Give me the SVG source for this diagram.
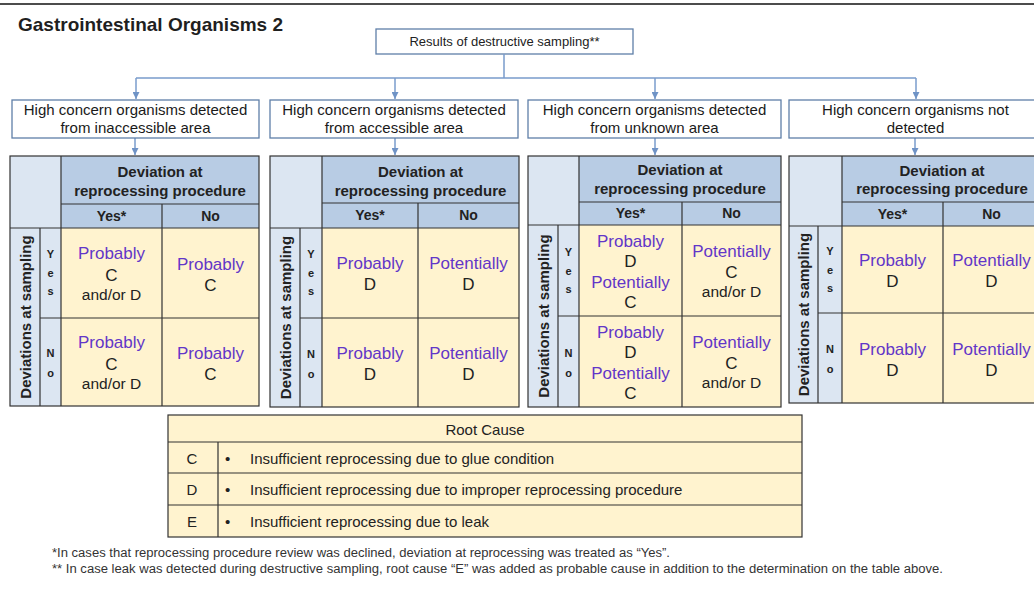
<svg xmlns="http://www.w3.org/2000/svg" width="1034" height="592" viewBox="0 0 1034 592">
<defs>
<marker id="arr" markerUnits="userSpaceOnUse" markerWidth="8" markerHeight="7" refX="7" refY="3.5" orient="auto">
<path d="M0,0 L7,3.5 L0,7 z" fill="#6f93c6"/>
</marker>
<style>
text{font-family:"Liberation Sans",Arial,sans-serif;fill:#222}
.title{font-size:19px;font-weight:bold;fill:#1f1f1f}
.box{fill:#fff;stroke:#5f7fa8;stroke-width:1.3}
.bt{font-size:15px;text-anchor:middle;fill:#1a1a1a}
.conn{fill:none;stroke:#7a9ccc;stroke-width:1.5}
.hd{fill:#b8cce4}
.lb{fill:#dce6f2}
.ye{fill:#fff3cf}
.ln{stroke:#333;stroke-width:1.2;fill:none}
.th{font-size:15px;font-weight:bold;text-anchor:middle}
.ths{font-size:14px;font-weight:bold;text-anchor:middle}
.vl{font-size:15px;font-weight:bold;text-anchor:middle}
.yn{font-size:11px;font-weight:bold;text-anchor:middle}
.p{font-size:17px;fill:#6236c8;text-anchor:middle}
.l{font-size:17px;text-anchor:middle;fill:#222}
.s{font-size:15.5px;text-anchor:middle;fill:#222}
.rc{font-size:15px;fill:#222}
.rcc{font-size:15px;fill:#222;text-anchor:middle}
.fn{font-size:12.5px;fill:#333}
</style>
</defs>
<rect x="0" y="0" width="1034" height="592" fill="#fff"/>
<line x1="0" y1="4" x2="1034" y2="4" stroke="#111" stroke-width="1.5"/>

<g id="title"><text class="title" x="18" y="31">Gastrointestinal Organisms 2</text></g>

<g id="results">
<rect class="box" x="376" y="29" width="257" height="25"/>
<text x="504.5" y="46" font-size="13" text-anchor="middle">Results of destructive sampling**</text>
</g>

<g id="connectors">
<path class="conn" d="M504,54 V78 M136,78 H916"/>
<path class="conn" d="M136,78 V99" marker-end="url(#arr)"/>
<path class="conn" d="M395,78 V99" marker-end="url(#arr)"/>
<path class="conn" d="M655,78 V99" marker-end="url(#arr)"/>
<path class="conn" d="M916,78 V99" marker-end="url(#arr)"/>
<path class="conn" d="M135,138 V155" marker-end="url(#arr)"/>
<path class="conn" d="M395,138 V155" marker-end="url(#arr)"/>
<path class="conn" d="M655,138 V155" marker-end="url(#arr)"/>
<path class="conn" d="M915,138 V155" marker-end="url(#arr)"/>
</g>

<g id="box-inaccessible">
<rect class="box" x="12" y="100" width="247" height="38"/>
<text class="bt" x="135.5" y="115">High concern organisms detected</text>
<text class="bt" x="135.5" y="133">from inaccessible area</text>
</g>
<g id="box-accessible">
<rect class="box" x="270" y="100" width="248" height="38"/>
<text class="bt" x="394" y="115">High concern organisms detected</text>
<text class="bt" x="394" y="133">from accessible area</text>
</g>
<g id="box-unknown">
<rect class="box" x="528" y="100" width="253" height="38"/>
<text class="bt" x="654.5" y="115">High concern organisms detected</text>
<text class="bt" x="654.5" y="133">from unknown area</text>
</g>
<g id="box-notdetected">
<rect class="box" x="789" y="100" width="252" height="38"/>
<text class="bt" x="915.5" y="115">High concern organisms not</text>
<text class="bt" x="915.5" y="133">detected</text>
</g>

<!-- Table 1 -->
<g id="table-inaccessible">
<rect class="lb" x="10" y="156" width="51" height="250"/>
<rect class="hd" x="61" y="156" width="198" height="72"/>
<rect class="ye" x="61" y="228" width="198" height="178"/>
<rect class="ln" x="10" y="156" width="249" height="250"/>
<path class="ln" d="M61,156 V406 M61,204 H259 M10,228 H259 M162,204 V406 M40,228 V406 M40,318 H259"/>
<text class="th" x="160" y="177">Deviation at</text>
<text class="th" x="160" y="196">reprocessing procedure</text>
<text class="ths" x="111.5" y="221">Yes*</text>
<text class="ths" x="210.5" y="221">No</text>
<text class="vl" transform="translate(30.5,317) rotate(-90)">Deviations at sampling</text>
<text class="yn" x="50.5" y="258">Y</text><text class="yn" x="50.5" y="277">e</text><text class="yn" x="50.5" y="295">s</text>
<text class="yn" x="50.5" y="357">N</text><text class="yn" x="50.5" y="377">o</text>
<text class="p" x="111.5" y="259">Probably</text><text class="l" x="111.5" y="281">C</text><text class="s" x="111.5" y="300">and/or D</text>
<text class="p" x="210.5" y="270">Probably</text><text class="l" x="210.5" y="291">C</text>
<text class="p" x="111.5" y="348">Probably</text><text class="l" x="111.5" y="370">C</text><text class="s" x="111.5" y="389">and/or D</text>
<text class="p" x="210.5" y="359">Probably</text><text class="l" x="210.5" y="380">C</text>
</g>

<!-- Table 2 -->
<g id="table-accessible">
<rect class="lb" x="270" y="156" width="52" height="251"/>
<rect class="hd" x="322" y="156" width="197" height="72"/>
<rect class="ye" x="322" y="228" width="197" height="179"/>
<rect class="ln" x="270" y="156" width="249" height="251"/>
<path class="ln" d="M322,156 V407 M322,203 H519 M270,228 H519 M418,203 V407 M300,228 V407 M300,318 H519"/>
<text class="th" x="420.5" y="177">Deviation at</text>
<text class="th" x="420.5" y="196">reprocessing procedure</text>
<text class="ths" x="370" y="220">Yes*</text>
<text class="ths" x="468.5" y="220">No</text>
<text class="vl" transform="translate(290.5,317.5) rotate(-90)">Deviations at sampling</text>
<text class="yn" x="311" y="258">Y</text><text class="yn" x="311" y="277">e</text><text class="yn" x="311" y="295">s</text>
<text class="yn" x="311" y="358">N</text><text class="yn" x="311" y="378">o</text>
<text class="p" x="370" y="269">Probably</text><text class="l" x="370" y="290">D</text>
<text class="p" x="468.5" y="269">Potentially</text><text class="l" x="468.5" y="290">D</text>
<text class="p" x="370" y="359">Probably</text><text class="l" x="370" y="380">D</text>
<text class="p" x="468.5" y="359">Potentially</text><text class="l" x="468.5" y="380">D</text>
</g>

<!-- Table 3 -->
<g id="table-unknown">
<rect class="lb" x="528" y="156" width="51" height="251"/>
<rect class="hd" x="579" y="156" width="202" height="69"/>
<rect class="ye" x="579" y="225" width="202" height="182"/>
<rect class="ln" x="528" y="156" width="253" height="251"/>
<path class="ln" d="M579,156 V407 M579,202 H781 M528,225 H781 M682,202 V407 M558,225 V407 M558,316 H781"/>
<text class="th" x="680" y="175">Deviation at</text>
<text class="th" x="680" y="194">reprocessing procedure</text>
<text class="ths" x="630.5" y="218">Yes*</text>
<text class="ths" x="731.5" y="218">No</text>
<text class="vl" transform="translate(548.5,316) rotate(-90)">Deviations at sampling</text>
<text class="yn" x="568.5" y="256">Y</text><text class="yn" x="568.5" y="275">e</text><text class="yn" x="568.5" y="293">s</text>
<text class="yn" x="568.5" y="357">N</text><text class="yn" x="568.5" y="377">o</text>
<text class="p" x="630.5" y="247">Probably</text><text class="l" x="630.5" y="267">D</text><text class="p" x="630.5" y="288">Potentially</text><text class="l" x="630.5" y="308">C</text>
<text class="p" x="731.5" y="257">Potentially</text><text class="l" x="731.5" y="278">C</text><text class="s" x="731.5" y="297">and/or D</text>
<text class="p" x="630.5" y="338">Probably</text><text class="l" x="630.5" y="358">D</text><text class="p" x="630.5" y="379">Potentially</text><text class="l" x="630.5" y="399">C</text>
<text class="p" x="731.5" y="348">Potentially</text><text class="l" x="731.5" y="369">C</text><text class="s" x="731.5" y="388">and/or D</text>
</g>

<!-- Table 4 -->
<g id="table-notdetected">
<rect class="lb" x="789" y="156" width="53" height="247"/>
<rect class="hd" x="842" y="156" width="200" height="70"/>
<rect class="ye" x="842" y="226" width="200" height="177"/>
<rect class="ln" x="789" y="156" width="253" height="247"/>
<path class="ln" d="M842,156 V403 M842,202 H1042 M789,226 H1042 M943,202 V403 M818,226 V403 M818,313 H1042"/>
<text class="th" x="942" y="176">Deviation at</text>
<text class="th" x="942" y="194">reprocessing procedure</text>
<text class="ths" x="892.5" y="219">Yes*</text>
<text class="ths" x="991.5" y="219">No</text>
<text class="vl" transform="translate(809,314.5) rotate(-90)">Deviations at sampling</text>
<text class="yn" x="830" y="255">Y</text><text class="yn" x="830" y="274">e</text><text class="yn" x="830" y="292">s</text>
<text class="yn" x="830" y="353">N</text><text class="yn" x="830" y="373">o</text>
<text class="p" x="892.5" y="266">Probably</text><text class="l" x="892.5" y="287">D</text>
<text class="p" x="991.5" y="266">Potentially</text><text class="l" x="991.5" y="287">D</text>
<text class="p" x="892.5" y="355">Probably</text><text class="l" x="892.5" y="376">D</text>
<text class="p" x="991.5" y="355">Potentially</text><text class="l" x="991.5" y="376">D</text>
</g>

<!-- Root cause -->
<g id="root-cause">
<rect class="ye" x="168" y="415" width="634" height="122"/>
<rect class="ln" x="168" y="415" width="634" height="122"/>
<path class="ln" d="M168,442 H802 M168,473 H802 M168,505 H802 M218,442 V537"/>
<text class="rcc" x="485" y="435">Root Cause</text>
<text class="rcc" x="192" y="464">C</text>
<text class="rcc" x="192" y="495">D</text>
<text class="rcc" x="192" y="527">E</text>
<text class="rc" x="225" y="464">•</text>
<text class="rc" x="225" y="495">•</text>
<text class="rc" x="225" y="527">•</text>
<text class="rc" x="250" y="464">Insufficient reprocessing due to glue condition</text>
<text class="rc" x="250" y="495">Insufficient reprocessing due to improper reprocessing procedure</text>
<text class="rc" x="250" y="527">Insufficient reprocessing due to leak</text>
</g>

<g id="footnotes">
<text class="fn" x="52" y="557" textLength="618" lengthAdjust="spacingAndGlyphs">*In cases that reprocessing procedure review was declined, deviation at reprocessing was treated as “Yes”.</text>
<text class="fn" x="52" y="573" textLength="891" lengthAdjust="spacingAndGlyphs">** In case leak was detected during destructive sampling, root cause “E” was added as probable cause in addition to the determination on the table above.</text>
</g>
</svg>
